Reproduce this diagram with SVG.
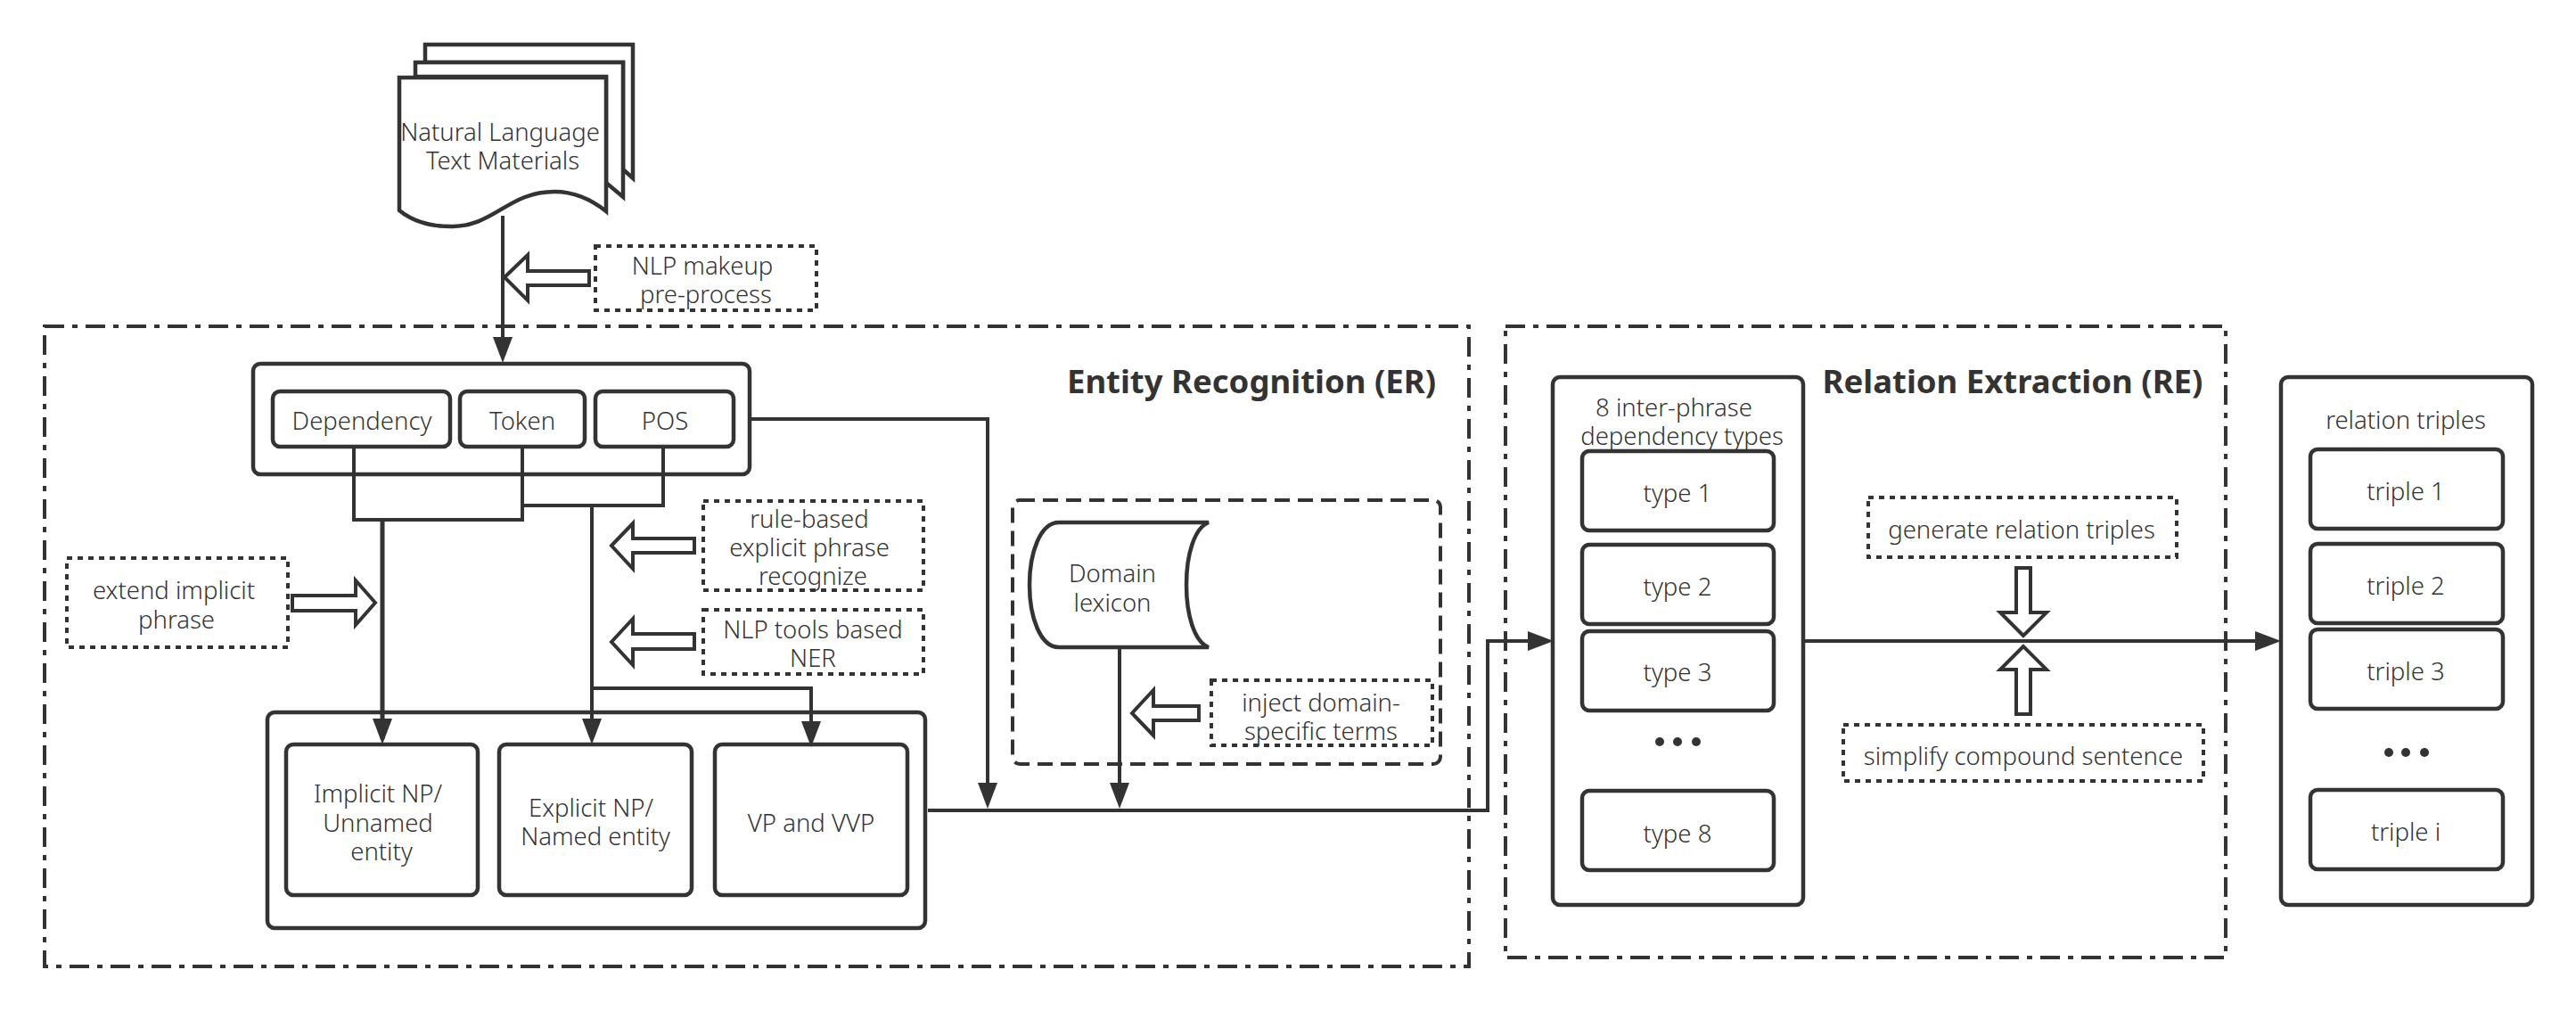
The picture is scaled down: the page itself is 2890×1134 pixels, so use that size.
<svg xmlns="http://www.w3.org/2000/svg" width="2890" height="1134" viewBox="0 0 2890 1134">
<defs>
<style>
text{font-family:"Noto Sans","Liberation Sans",sans-serif;font-weight:300;font-size:27.5px;fill:#333;text-anchor:middle}
.title{font-size:36.5px;font-weight:700}
.b{fill:#fff;stroke:#333;stroke-width:4.5}
.d{fill:none;stroke:#333;stroke-width:4;stroke-dasharray:6 6}
.dd{fill:none;stroke:#333;stroke-width:4;stroke-dasharray:22 9 6 9}
.da{fill:none;stroke:#333;stroke-width:4;stroke-dasharray:17 9}
.l{fill:none;stroke:#333;stroke-width:4}
.la{fill:none;stroke:#333;stroke-width:4;marker-end:url(#ah)}
.h{fill:#fff;stroke:#333;stroke-width:4}
</style>
<marker id="ah" markerUnits="userSpaceOnUse" markerWidth="30" markerHeight="22" refX="23" refY="11" orient="auto"><path d="M0 0L29 11L0 22Z" fill="#333"/></marker>
</defs>
<rect width="2890" height="1134" fill="#fff"/>
<g id="er"><rect class="dd" x="50" y="366" width="1598" height="718"/><text class="title" x="1404" y="441">Entity Recognition (ER)</text></g>
<g id="re"><rect class="dd" x="1689" y="366" width="808" height="708"/><text class="title" x="2258" y="441">Relation Extraction (RE)</text></g>
<g id="doc">
<path class="b" d="M477 70V50H710V200L699 190V70Z"/>
<path class="b" d="M466 86V70H699V221L680 205V86Z"/>
<path class="b" d="M448 87H680V237C665 225 645 215 622 215C570 215 555 254 506 254C485 254 465 250 448 236Z"/>
<text x="561" y="158">Natural Language</text><text x="564" y="190">Text Materials</text>
</g>
<g id="nlp-makeup"><rect class="d" x="668" y="276" width="248" height="72"/><text x="788" y="308">NLP makeup</text><text x="792" y="340">pre-process</text></g>
<g id="nlp-input"><rect class="b" x="284" y="408" width="557" height="124" rx="8"/>
<rect class="b" x="306" y="439" width="199" height="62" rx="8"/><text x="406" y="482">Dependency</text>
<rect class="b" x="516" y="439" width="140" height="62" rx="8"/><text x="586" y="482">Token</text>
<rect class="b" x="668" y="439" width="155" height="62" rx="8"/><text x="746" y="482">POS</text></g>
<g id="extend"><rect class="d" x="75" y="626" width="248" height="100"/><text x="195" y="672">extend implicit</text><text x="198" y="705">phrase</text></g>
<g id="rule"><rect class="d" x="789" y="562" width="247" height="100"/><text x="908" y="592">rule-based</text><text x="908" y="624">explicit phrase</text><text x="912" y="656">recognize</text></g>
<g id="ner"><rect class="d" x="789" y="684" width="247" height="72"/><text x="912" y="716">NLP tools based</text><text x="912" y="748">NER</text></g>
<g id="phrases"><rect class="b" x="300" y="799" width="738" height="242" rx="8"/>
<rect class="b" x="321" y="835" width="215" height="169" rx="8"/><text x="424" y="900">Implicit NP/</text><text x="424" y="933">Unnamed</text><text x="428" y="965">entity</text>
<rect class="b" x="560" y="835" width="216" height="169" rx="8"/><text x="663" y="916">Explicit NP/</text><text x="668" y="948">Named entity</text>
<rect class="b" x="802" y="835" width="216" height="169" rx="8"/><text x="910" y="933">VP and VVP</text></g>
<g id="lexicon-group"><rect class="da" x="1136" y="561" width="480" height="296" rx="8"/>
<path class="b" d="M1356 586H1188C1167 586 1155 620 1155 656C1155 692 1167 726 1188 726H1356C1340 720 1331 690 1331 656C1331 622 1340 592 1356 586Z"/><text x="1248" y="653">Domain</text><text x="1248" y="686">lexicon</text>
<rect class="d" x="1359" y="763" width="248" height="73"/><text x="1482" y="798">inject domain-</text><text x="1482" y="830">specific terms</text></g>
<g id="types"><rect class="b" x="1742" y="423" width="281" height="592" rx="8"/><text x="1878" y="467">8 inter-phrase</text><text x="1887" y="499">dependency types</text>
<rect class="b" x="1775" y="506" width="215" height="89" rx="8"/><text x="1882" y="563">type 1</text>
<rect class="b" x="1775" y="611" width="215" height="89" rx="8"/><text x="1882" y="668">type 2</text>
<rect class="b" x="1775" y="708" width="215" height="89" rx="8"/><text x="1882" y="764">type 3</text>
<circle cx="1862" cy="832" r="5" fill="#333"/><circle cx="1882" cy="832" r="5" fill="#333"/><circle cx="1903" cy="832" r="5" fill="#333"/>
<rect class="b" x="1775" y="887" width="215" height="89" rx="8"/><text x="1882" y="945">type 8</text></g>
<g id="generate"><rect class="d" x="2096" y="558" width="346" height="67"/><text x="2268" y="604">generate relation triples</text></g>
<g id="simplify"><rect class="d" x="2068" y="813" width="404" height="63"/><text x="2270" y="858">simplify compound sentence</text></g>
<g id="triples"><rect class="b" x="2559" y="423" width="282" height="592" rx="8"/><text x="2699" y="481">relation triples</text>
<rect class="b" x="2592" y="504" width="216" height="89" rx="8"/><text x="2699" y="561">triple 1</text>
<rect class="b" x="2592" y="610" width="216" height="89" rx="8"/><text x="2699" y="667">triple 2</text>
<rect class="b" x="2592" y="706" width="216" height="89" rx="8"/><text x="2699" y="763">triple 3</text>
<circle cx="2680" cy="844" r="5" fill="#333"/><circle cx="2699" cy="844" r="5" fill="#333"/><circle cx="2720" cy="844" r="5" fill="#333"/>
<rect class="b" x="2592" y="886" width="216" height="89" rx="8"/><text x="2699" y="943">triple i</text></g>
<g id="connectors">
<path class="la" d="M564 242V401"/>
<path class="l" d="M397 501V583H586V501M586 567H744V501"/>
<path class="la" style="stroke-width:5" d="M429 583V829"/>
<path class="la" d="M664 567V829"/>
<path class="la" d="M664 772H910V832"/>
<path class="la" d="M841 470H1108V901"/>
<path class="la" d="M1256 726V901"/>
<path class="la" d="M1041 909H1669V719H1737"/>
<path class="la" d="M2023 719H2553"/>
<path class="h" d="M566 311L592 286V304H661V320H592V337Z"/>
<path class="h" d="M686 612L710 587V604H779V620H710V638Z"/>
<path class="h" d="M686 720L710 694V711H779V728H710V746Z"/>
<path class="h" d="M421 676L399 651V668H328V685H399V701Z"/>
<path class="h" d="M1270 800L1294 774V792H1345V808H1294V825Z"/>
<path class="h" d="M2270 713L2244 687H2262V637H2278V687H2296Z"/>
<path class="h" d="M2270 725L2244 751H2262V801H2278V751H2296Z"/>
</g>
</svg>
